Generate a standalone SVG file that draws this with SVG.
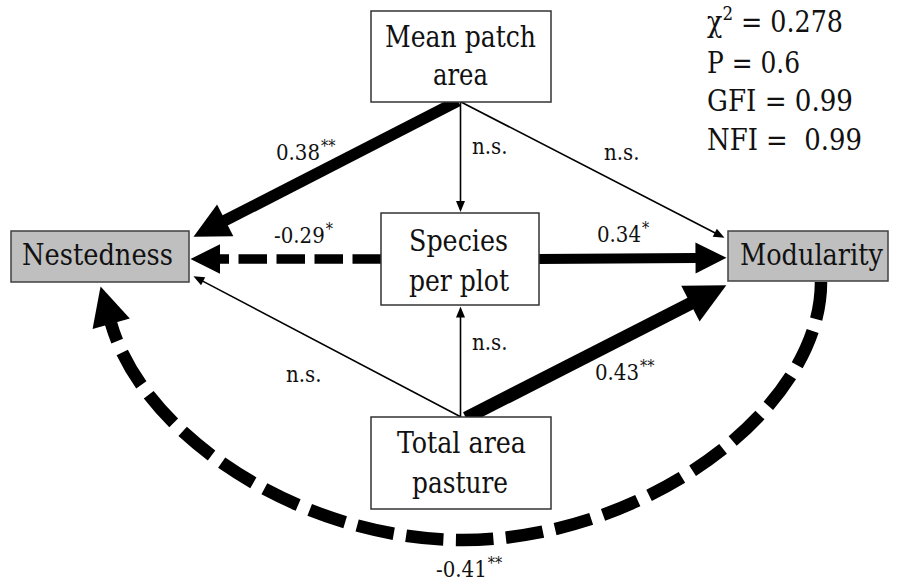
<svg xmlns="http://www.w3.org/2000/svg" width="900" height="583" viewBox="0 0 900 583">
<style>
  text { fill: #111; font-family: "DejaVu Serif Condensed", "DejaVu Serif", serif; font-stretch: condensed; }
  .node { font-size: 29px; }
  .lbl { font-size: 22px; }
  .sup { font-size: 16px; }
  .stat { font-size: 29px; }
  .box { fill: #ffffff; stroke: #333333; stroke-width: 1.5; }
  .gbox { fill: #bfbfbf; stroke: #404040; stroke-width: 1.5; }
  .thin { fill: none; stroke: #000; stroke-width: 1.6; marker-end: url(#small); }
  .thick { fill: none; stroke: #000; marker-end: url(#big); }
  .dash-s { stroke-dasharray: 28.5 9.5; }
  .dash-c { stroke-dasharray: 37.5 12.5; }
</style>
<defs>
  <marker id="big" markerUnits="strokeWidth" markerWidth="3.3" markerHeight="3.3" refX="0.05" refY="1.55" orient="auto" overflow="visible">
    <path d="M0,0 L3.1,1.55 L0,3.1 z" fill="#000"/>
  </marker>
  <marker id="small" markerUnits="userSpaceOnUse" markerWidth="12" markerHeight="10" refX="0.5" refY="4.5" orient="auto" overflow="visible">
    <path d="M0,0 L11,4.5 L0,9 z" fill="#000"/>
  </marker>
</defs>

<g id="connectors">
  <path class="thick" stroke-width="11.5" d="M458,101 L224.7,220.7"/>
  <path class="thin" d="M460.5,102 L460.5,201.5"/>
  <path class="thin" d="M461,102 L715.2,233"/>
  <path class="thick dash-s" stroke-width="9.5" d="M381,259 L219.5,259"/>
  <path class="thick" stroke-width="10" d="M539,259 L696,258"/>
  <path class="thin" d="M461,417 L202.7,281.1"/>
  <path class="thin" d="M460.5,417 L460.5,317"/>
  <path class="thick" stroke-width="13" d="M466,418 L691,303.3"/>
  <path class="thick dash-c" stroke-width="12.5" d="M821,282 C821,411 642,540 463,540 C303.2,540 143.4,437.1 111,323.2"/>

  <text class="lbl" x="276" y="160">0.38<tspan class="sup" dx="1" dy="-8">**</tspan></text>
  <text class="lbl" x="604" y="160">n.s.</text>
  <text class="lbl" x="472" y="154">n.s.</text>
  <text class="lbl" x="274" y="243">-0.29<tspan class="sup" dx="1" dy="-8">*</tspan></text>
  <text class="lbl" x="597" y="242">0.34<tspan class="sup" dx="1" dy="-8">*</tspan></text>
  <text class="lbl" x="472" y="350">n.s.</text>
  <text class="lbl" x="286" y="382">n.s.</text>
  <text class="lbl" x="595" y="380">0.43<tspan class="sup" dx="1" dy="-8">**</tspan></text>
  <text class="lbl" x="436" y="577">-0.41<tspan class="sup" dx="1" dy="-8">**</tspan></text>
</g>

<g id="mean-patch-area">
  <rect class="box" x="371" y="11" width="180" height="91"/>
  <text class="node" x="385" y="47" textLength="151" lengthAdjust="spacingAndGlyphs">Mean patch</text>
  <text class="node" x="433" y="85" textLength="55" lengthAdjust="spacingAndGlyphs">area</text>
</g>

<g id="nestedness">
  <rect class="gbox" x="11" y="231" width="178" height="51"/>
  <text class="node" x="22" y="265" textLength="151" lengthAdjust="spacingAndGlyphs">Nestedness</text>
</g>

<g id="species-per-plot">
  <rect class="box" x="381" y="213" width="158" height="92"/>
  <text class="node" x="409" y="251" textLength="99" lengthAdjust="spacingAndGlyphs">Species</text>
  <text class="node" x="409" y="291" textLength="100" lengthAdjust="spacingAndGlyphs">per plot</text>
</g>

<g id="modularity">
  <rect class="gbox" x="728" y="231" width="160" height="50"/>
  <text class="node" x="740" y="265" textLength="143" lengthAdjust="spacingAndGlyphs">Modularity</text>
</g>

<g id="total-area-pasture">
  <rect class="box" x="371" y="417" width="180" height="92"/>
  <text class="node" x="397" y="453" textLength="129" lengthAdjust="spacingAndGlyphs">Total area</text>
  <text class="node" x="412" y="493" textLength="96" lengthAdjust="spacingAndGlyphs">pasture</text>
</g>

<g id="fit-statistics">
  <text class="stat" x="707" y="32" textLength="136" lengthAdjust="spacingAndGlyphs">χ<tspan font-size="19" dy="-12">2</tspan><tspan dy="12"> = 0.278</tspan></text>
  <text class="stat" x="707" y="73" textLength="93" lengthAdjust="spacingAndGlyphs">P = 0.6</text>
  <text class="stat" x="707" y="111" textLength="146" lengthAdjust="spacingAndGlyphs">GFI = 0.99</text>
  <text class="stat" x="707" y="150" textLength="155" lengthAdjust="spacingAndGlyphs" xml:space="preserve">NFI =  0.99</text>
</g>
</svg>
